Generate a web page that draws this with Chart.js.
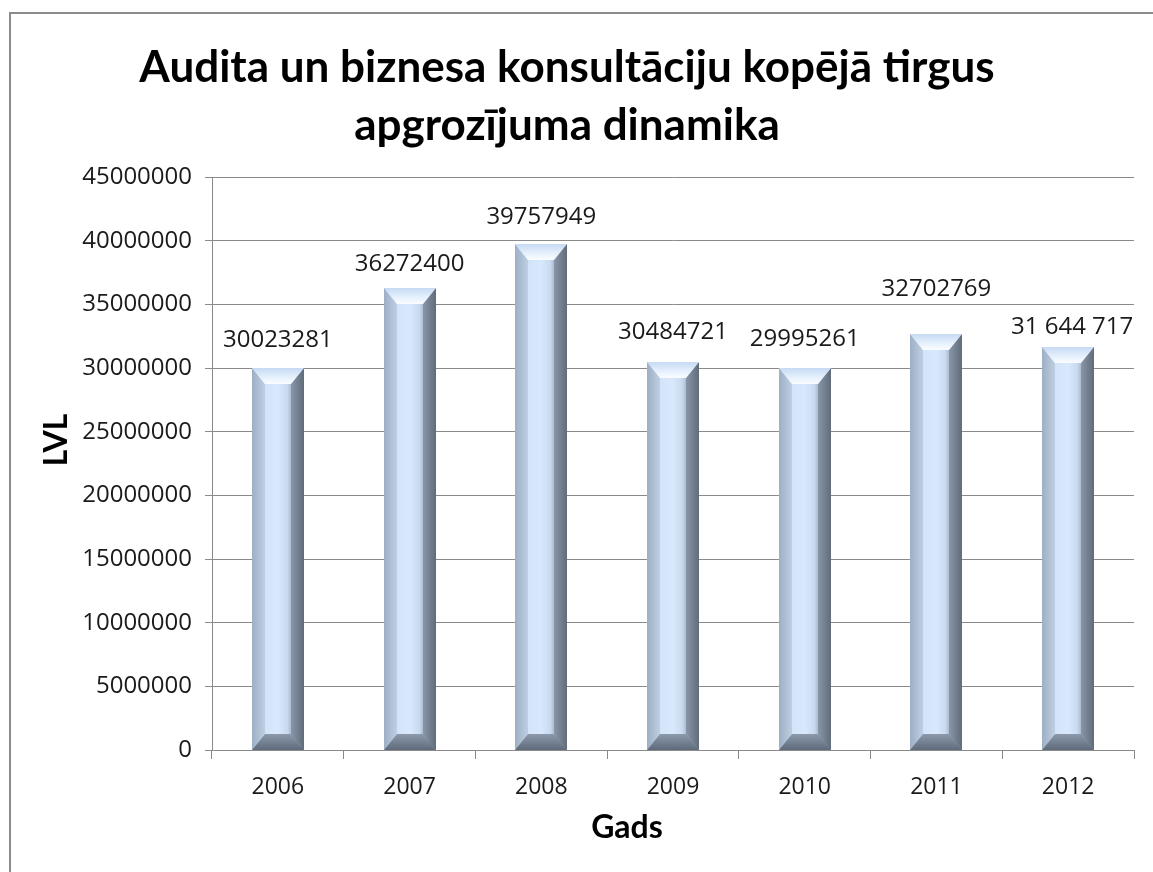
<!DOCTYPE html>
<html>
<head>
<meta charset="utf-8">
<script src="https://cdn.jsdelivr.net/npm/chart.js@4"></script>
<style>
html,body{margin:0;padding:0;background:#fff;}
#wrap{width:1153px;height:872px;position:relative;}
</style>
</head>
<body>
<div id="wrap"><canvas id="c" width="1153" height="872"></canvas></div>
<script>
// ---- data ----
const years = ['2006', '2007', '2008', '2009', '2010', '2011', '2012'];
const turnover = [30023281, 36272400, 39757949, 30484721, 29995261, 32702769, 31644717];
const valueLabels = ['30023281', '36272400', '39757949', '30484721', '29995261', '32702769', '31 644 717'];
const yTickValues = [0, 5000000, 10000000, 15000000, 20000000, 25000000, 30000000, 35000000, 40000000, 45000000];
const titleLines = ['Audita un biznesa konsultāciju kopējā tirgus', 'apgrozījuma dinamika'];
const yTitle = 'LVL';
const xTitle = 'Gads';

// ---- style settings ----
const labelLift = [28, 24, 27, 30, 29, 45, 20];
const GRID = '#8a8a8a';
const TEXT = '#1a1a1a';

const framePlugin = {
  id: 'frame',
  beforeDraw(chart) {
    const ctx = chart.ctx;
    ctx.save();
    ctx.fillStyle = '#fff';
    ctx.fillRect(0, 0, chart.width, chart.height);
    ctx.strokeStyle = '#8c8c8c';
    ctx.lineWidth = 2;
    ctx.strokeRect(10, 13, chart.width + 20, chart.height + 20);
    ctx.restore();
  }
};

function poly(ctx, pts, fill) {
  ctx.beginPath();
  ctx.moveTo(pts[0][0], pts[0][1]);
  for (let i = 1; i < pts.length; i++) ctx.lineTo(pts[i][0], pts[i][1]);
  ctx.closePath();
  ctx.fillStyle = fill;
  ctx.fill();
}

const bevelPlugin = {
  id: 'bevel',
  afterDatasetsDraw(chart) {
    const ctx = chart.ctx;
    const meta = chart.getDatasetMeta(0);
    ctx.save();
    meta.data.forEach((bar) => {
      const p = bar.getProps(['x', 'y', 'base', 'width'], true);
      const l = Math.round(p.x - p.width / 2), r = Math.round(p.x + p.width / 2);
      const t = Math.round(p.y), b = Math.round(p.base);
      const bx = 13, by = Math.min(16, (b - t) / 2);
      // face
      let g = ctx.createLinearGradient(l, 0, r, 0);
      g.addColorStop(0, '#bccde2');
      g.addColorStop(0.25, '#d3e3f8');
      g.addColorStop(0.5, '#d9e9fd');
      g.addColorStop(0.68, '#c9d9ee');
      g.addColorStop(0.76, '#a9b8cc');
      g.addColorStop(1, '#8a97a9');
      ctx.fillStyle = g;
      ctx.fillRect(l, t, r - l, b - t);
      // left bevel
      g = ctx.createLinearGradient(l, 0, l + bx, 0);
      g.addColorStop(0, '#9dafc5');
      g.addColorStop(1, '#bfcfe3');
      poly(ctx, [[l, t], [l + bx, t + by], [l + bx, b - by], [l, b]], g);
      // right bevel
      g = ctx.createLinearGradient(r - bx, 0, r, 0);
      g.addColorStop(0, '#8896a8');
      g.addColorStop(1, '#616c7a');
      poly(ctx, [[r, t], [r - bx, t + by], [r - bx, b - by], [r, b]], g);
      // top bevel
      g = ctx.createLinearGradient(0, t, 0, t + by);
      g.addColorStop(0, '#c6daf3');
      g.addColorStop(0.6, '#e6f1fd');
      g.addColorStop(1, '#fbfdff');
      poly(ctx, [[l, t], [r, t], [r - bx, t + by], [l + bx, t + by]], g);
      // bottom bevel
      g = ctx.createLinearGradient(0, b - by, 0, b);
      g.addColorStop(0, '#8b99ab');
      g.addColorStop(1, '#5f6b7a');
      poly(ctx, [[l, b], [r, b], [r - bx, b - by], [l + bx, b - by]], g);
    });
    ctx.restore();
  }
};

const labelPlugin = {
  id: 'valueLabels',
  afterDatasetsDraw(chart) {
    const ctx = chart.ctx;
    const meta = chart.getDatasetMeta(0);
    ctx.save();
    ctx.font = '24px "Open Sans"';
    ctx.fillStyle = TEXT;
    ctx.textAlign = 'center';
    ctx.textBaseline = 'middle';
    meta.data.forEach((bar, i) => {
      ctx.fillText(valueLabels[i], bar.x + (i === 6 ? 4 : 0), bar.y - labelLift[i]);
    });
    ctx.restore();
  }
};

const axisTitlePlugin = {
  id: 'axisTitles',
  afterDraw(chart) {
    const ctx = chart.ctx;
    ctx.save();
    ctx.fillStyle = '#000';
    ctx.font = 'bold 32px Lato';
    ctx.textAlign = 'center';
    ctx.textBaseline = 'middle';
    ctx.fillText(xTitle, 627, 828);
    ctx.translate(57, 440);
    ctx.rotate(-Math.PI / 2);
    ctx.fillText(yTitle, 0, 0);
    ctx.restore();
  }
};

new Chart(document.getElementById('c'), {
  type: 'bar',
  data: {
    labels: years,
    datasets: [{
      data: turnover,
      backgroundColor: 'rgba(0,0,0,0)',
      borderWidth: 0,
      categoryPercentage: 1,
      barPercentage: 0.395
    }]
  },
  options: {
    responsive: false,
    animation: false,
    devicePixelRatio: 1,
    layout: { padding: { left: 0, right: 19, top: 0, bottom: 0 } },
    plugins: {
      legend: { display: false },
      tooltip: { enabled: false },
      title: {
        display: true,
        text: titleLines,
        color: '#000',
        font: { family: 'Lato', weight: 'bold', size: 44, lineHeight: 1.32 },
        padding: { top: 39, bottom: 22 }
      }
    },
    scales: {
      y: {
        min: 0,
        max: 45000000,
        afterBuildTicks(scale) { scale.ticks = yTickValues.map(v => ({ value: v })); },
        afterFit(scale) { scale.width = 212; },
        ticks: {
          color: TEXT,
          font: { family: 'Open Sans', size: 24 },
          padding: 13,
          callback: (v) => String(v)
        },
        grid: { color: GRID, lineWidth: 1, tickLength: 7, drawTicks: true },
        border: { color: GRID, width: 1 }
      },
      x: {
        afterFit(scale) { scale.height = 122; },
        ticks: {
          color: TEXT,
          font: { family: 'Open Sans', size: 23 },
          padding: 15,
          maxRotation: 0
        },
        grid: { offset: true, drawOnChartArea: false, color: GRID, tickLength: 9 },
        border: { color: GRID, width: 1 }
      }
    }
  },
  plugins: [framePlugin, bevelPlugin, labelPlugin, axisTitlePlugin]
});
</script>
</body>
</html>
